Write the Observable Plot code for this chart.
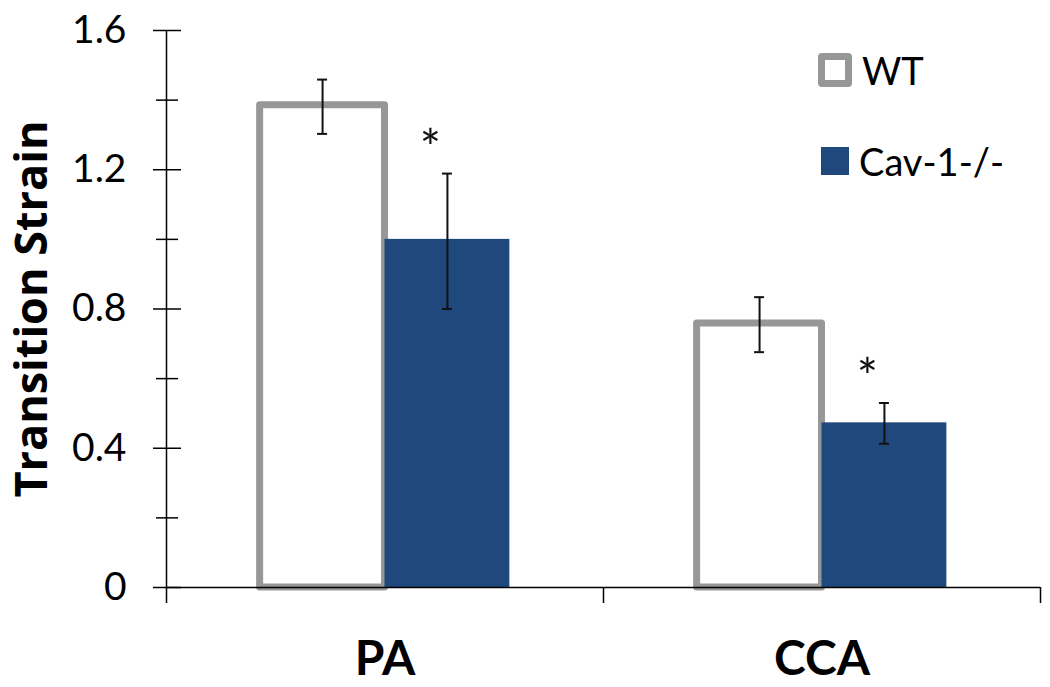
<!DOCTYPE html>
<html>
<head>
<meta charset="utf-8">
<script src="https://cdn.jsdelivr.net/npm/d3@7"></script>
<script src="https://cdn.jsdelivr.net/npm/@observablehq/plot@0.6"></script>
<style>
  html, body { margin: 0; padding: 0; background: #fff; }
  #wrap { position: relative; width: 1050px; height: 687px; font-family: Lato, "Open Sans", sans-serif; }
  .leg { position: absolute; display: flex; align-items: center; font-size: 38px; color: #000; }
  .sw { box-sizing: border-box; margin-right: 10px; }
</style>
</head>
<body>
<div id="wrap"></div>
<script>
// ---- data ----
const categories = ["PA", "CCA"];
const seriesNames = ["WT", "Cav-1-/-"];
const wtValues = [1.385, 0.758];
const cavValues = [1.0, 0.473];
const wtLow = [1.303, 0.676];
const wtHigh = [1.459, 0.834];
const cavLow = [0.80, 0.413];
const cavHigh = [1.189, 0.53];
const yTicksMajor = [0, 0.4, 0.8, 1.2, 1.6];
const yTicksMinor = [0.2, 0.6, 1.0, 1.4];

// ---- styles ----
const GRAY = "#979797";
const NAVY = "#1F497D";
const barW = 1 / 3.5; // Excel gap width 150%

const rows = categories.flatMap((c, i) => [
  {cat: c, i, k: 0, s: seriesNames[0], v: wtValues[i], lo: wtLow[i], hi: wtHigh[i]},
  {cat: c, i, k: 1, s: seriesNames[1], v: cavValues[i], lo: cavLow[i], hi: cavHigh[i]}
]);
const x1 = d => d.i - barW + d.k * barW;
const x2 = d => x1(d) + barW;
const xc = d => x1(d) + barW / 2;
const cap = 5 / 437;
const wtRows = rows.filter(d => d.k === 0);
const cavRows = rows.filter(d => d.k === 1);

const chart = Plot.plot({
  width: 1050,
  height: 687,
  marginLeft: 166,
  marginRight: 10,
  marginTop: 30,
  marginBottom: 100,
  style: {fontFamily: "Lato, 'Open Sans', sans-serif", color: "#000", background: "#fff"},
  x: {type: "linear", domain: [-0.5, 1.5]},
  y: {domain: [0, 1.6]},
  marks: [
    Plot.rect(wtRows, {x1, x2, y1: 0, y2: "v", fill: "#fff", stroke: GRAY, strokeWidth: 7, strokeLinejoin: "round"}),
    Plot.rect(cavRows, {x1, x2, y1: 0, y2: "v", fill: NAVY}),
    Plot.ruleX(rows, {x: xc, y1: "lo", y2: "hi", stroke: "#111", strokeWidth: 2}),
    Plot.ruleY(rows, {y: "hi", x1: d => xc(d) - cap, x2: d => xc(d) + cap, stroke: "#111", strokeWidth: 2}),
    Plot.ruleY(rows, {y: "lo", x1: d => xc(d) - cap, x2: d => xc(d) + cap, stroke: "#111", strokeWidth: 2}),
    Plot.text(cavRows, {x: xc, y: "hi", text: () => "*", dx: -17, dy: -24, fontSize: 50, fill: "#111"}),
    // axes
    Plot.ruleX([-0.5], {y1: 0, y2: 1.6, stroke: "#000", strokeWidth: 1.5}),
    Plot.ruleY([0], {stroke: "#000", strokeWidth: 1.5}),
    Plot.axisY({ticks: yTicksMajor, tickSize: 28, dx: 15, tickPadding: 27, tickFormat: d => String(d), fontSize: 39, strokeWidth: 1.5, label: null}),
    Plot.axisY({ticks: yTicksMinor, tickSize: 22, dx: 12, tickFormat: () => "", strokeWidth: 1.5, label: null}),
    Plot.axisY({ticks: [], label: "Transition Strain", labelAnchor: "center", labelArrow: "none", labelOffset: 151, dx: 12, fontSize: 45, fontWeight: "bold", fontFamily: "'Open Sans', Lato, sans-serif"}),
    Plot.axisX({ticks: [-0.5, 0.5, 1.5], tickSize: 16, tickFormat: () => "", strokeWidth: 1.5, label: null}),
    Plot.axisX({ticks: [0, 1], tickSize: 0, tickPadding: 53, tickFormat: i => categories[i], fontSize: 48, fontWeight: "bold", label: null})
  ]
});

const wrap = document.getElementById("wrap");
wrap.appendChild(chart);

// legend (inside the plot area, as in the original)
const legend = [
  {name: seriesNames[0], top: 53, left: 818, sw: `width:34px;height:34px;border:7px solid ${GRAY};border-radius:4px;background:#fff;`},
  {name: seriesNames[1], top: 144, left: 821, sw: `width:28px;height:28px;background:${NAVY};`}
];
for (const l of legend) {
  const el = document.createElement("div");
  el.className = "leg";
  el.style.top = (l.top - 6) + "px";
  el.style.left = l.left + "px";
  el.style.height = "46px";
  const sw = document.createElement("div");
  sw.className = "sw";
  sw.style.cssText = l.sw;
  const t = document.createElement("span");
  t.textContent = l.name;
  el.appendChild(sw);
  el.appendChild(t);
  wrap.appendChild(el);
}
</script>
</body>
</html>
